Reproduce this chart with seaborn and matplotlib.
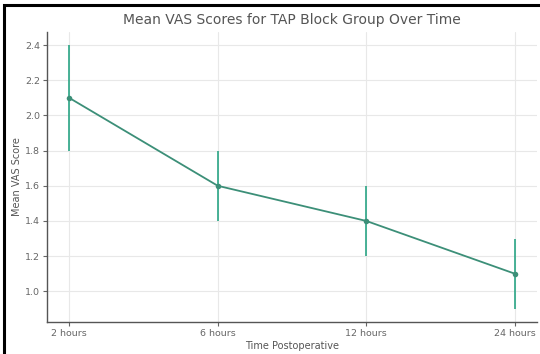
import matplotlib
matplotlib.use("Agg")
import matplotlib.pyplot as plt
import seaborn as sns
import pandas as pd
from matplotlib.lines import Line2D

# Mean VAS pain scores (TAP block group) with their spread
time_labels = ["2 hours", "6 hours", "12 hours", "24 hours"]
mean_vas = [2.1, 1.6, 1.4, 1.1]
vas_err = [0.3, 0.2, 0.2, 0.2]

df = pd.DataFrame({"Time": time_labels, "VAS": mean_vas})

sns.set_theme(style="whitegrid")
plt.rcParams["font.family"] = ["DejaVu Sans"]

fig = plt.figure(figsize=(5.4, 3.54), dpi=100)
ax = fig.add_axes([47 / 540, 32 / 354, (537 - 47) / 540, (322 - 32) / 354])

line_color = "#3c8f78"
bar_color = "#2aa585"

ax.errorbar(range(len(time_labels)), mean_vas, yerr=vas_err, fmt="none",
            ecolor=bar_color, elinewidth=1.2, capsize=0, zorder=2)
sns.lineplot(data=df, x="Time", y="VAS", sort=False, color=line_color,
             marker="o", markersize=4, markeredgewidth=0, linewidth=1.3,
             ax=ax, zorder=3)

ax.set_xlim(-0.15, 3.15)
ax.set_ylim(0.825, 2.475)
ax.set_yticks([1.0, 1.2, 1.4, 1.6, 1.8, 2.0, 2.2, 2.4])

ax.set_title("Mean VAS Scores for TAP Block Group Over Time",
             fontsize=10, color="#555555", pad=6)
ax.set_xlabel("Time Postoperative", fontsize=7, color="#555555", labelpad=2)
ax.set_ylabel("Mean VAS Score", fontsize=7, color="#555555", labelpad=2)

ax.tick_params(axis="both", labelsize=6.8, colors="#666666", length=3,
               width=0.8, pad=2, left=True, bottom=True)
ax.grid(True, color="#e8e8e8", linewidth=0.8)
for side in ("top", "right"):
    ax.spines[side].set_visible(False)
for side in ("left", "bottom"):
    ax.spines[side].set_color("#555555")
    ax.spines[side].set_linewidth(1.0)

# dark frame along the left and top edges of the figure
x0, y0 = 4 / 540, 1 - 4.5 / 354
fig.lines.append(Line2D([x0, x0, 1.0], [0.0, y0, y0],
                        transform=fig.transFigure, color="black",
                        linewidth=2.2, solid_joinstyle="miter", zorder=10))

fig.savefig("out.png", dpi=100)
